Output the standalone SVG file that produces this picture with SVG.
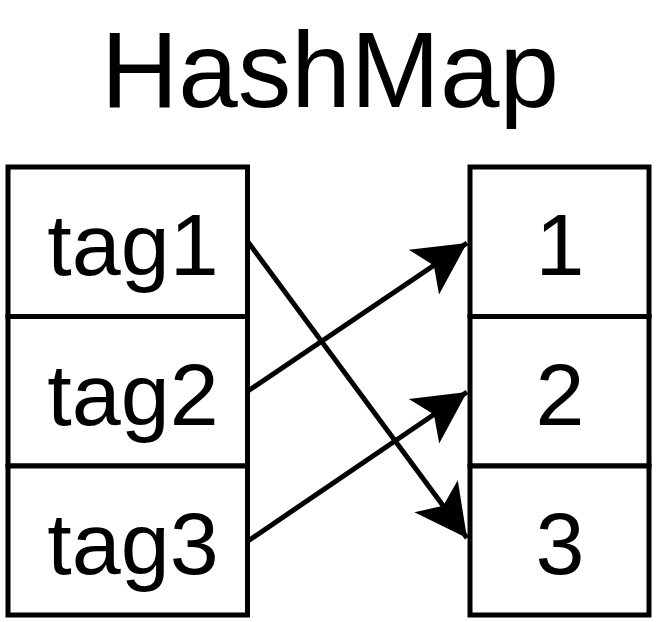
<svg xmlns="http://www.w3.org/2000/svg" width="658" height="622" viewBox="0 0 658 622">
<style>
.box{fill:#fff;stroke:#000;stroke-width:5}
.t{font-family:"Liberation Sans",Arial,sans-serif;fill:#000;text-anchor:middle}
.lbl{font-size:88px}
.edge{stroke:#000;stroke-width:5;fill:none}
</style>
<defs>
<marker id="ah" markerUnits="userSpaceOnUse" orient="auto" markerWidth="60" markerHeight="60" viewBox="-55 -30 60 60" refX="0" refY="0">
<path d="M0,0 L-52,-27 L-40,0 L-52,27 Z" fill="#000"/>
</marker>
</defs>
<rect width="658" height="622" fill="#fff"/>
<text class="t" x="330" y="107" font-size="107">HashMap</text>
<g id="tag1"><rect class="box" x="8" y="167" width="239.5" height="149.5"/><text class="t lbl" x="133" y="275">tag1</text></g>
<g id="tag2"><rect class="box" x="8" y="316.5" width="239.5" height="149.5"/><text class="t lbl" x="133" y="424.5">tag2</text></g>
<g id="tag3"><rect class="box" x="8" y="466" width="239.5" height="149"/><text class="t lbl" x="133" y="574">tag3</text></g>
<g id="v1"><rect class="box" x="470" y="167" width="179" height="149.5"/><text class="t lbl" x="560" y="275">1</text></g>
<g id="v2"><rect class="box" x="470" y="316.5" width="179" height="149.5"/><text class="t lbl" x="560" y="424.5">2</text></g>
<g id="v3"><rect class="box" x="470" y="466" width="179" height="149"/><text class="t lbl" x="560" y="574">3</text></g>
<g id="connectors">
<line class="edge" x1="248" y1="242" x2="467" y2="538" marker-end="url(#ah)"/>
<line class="edge" x1="248" y1="391" x2="467" y2="243" marker-end="url(#ah)"/>
<line class="edge" x1="248" y1="541" x2="467" y2="392" marker-end="url(#ah)"/>
</g>
</svg>
